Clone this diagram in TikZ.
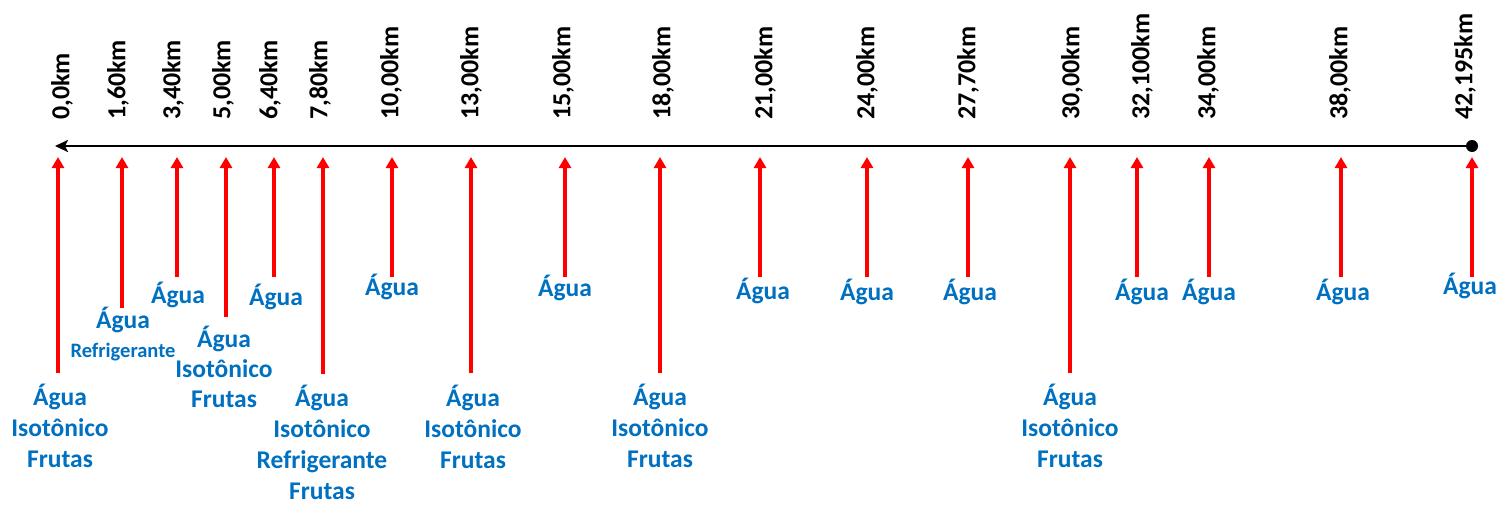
\documentclass[tikz,border=0pt]{standalone}
\usepackage{fontspec}
\setmainfont{Carlito}
\usetikzlibrary{arrows.meta}
\definecolor{labblue}{HTML}{0070C0}
\begin{document}
\begin{tikzpicture}[x=1pt,y=-1pt,
  km/.style={rotate=90,anchor=west,inner sep=0pt,font=\bfseries\fontsize{26}{28}\selectfont},
  lab/.style={text=labblue,font=\bfseries\fontsize{25.5}{31}\selectfont,align=center,anchor=base,inner sep=0pt},
  labsmall/.style={lab,font=\bfseries\fontsize{20.5}{24}\selectfont},
  feed/.style={red,line width=3.5pt,-{Triangle[length=11pt,width=12pt]}},
  axisline/.style={line width=2.5pt,-{Stealth[length=13pt,width=12pt,inset=3pt]}}]
\useasboundingbox (0,0) rectangle (1498,504);
% axis
\node[circle,fill=black,inner sep=0pt,minimum size=12pt] (fin) at (1472,146) {};
\coordinate (start) at (55,146);
\draw[axisline] (fin.center) -- (start);
% km labels and red arrows
\foreach \i/\ax/\lx/\txt/\bot in {
  0/58/62/{0,0km}/373, 1/122/118/{1,60km}/308, 2/177/173/{3,40km}/277,
  3/226/223/{5,00km}/317, 4/274/270/{6,40km}/277, 5/323/320/{7,80km}/374,
  6/392/391/{10,00km}/277, 7/471/471/{13,00km}/373, 8/565/563/{15,00km}/277,
  9/660/663/{18,00km}/373, 10/760/765/{21,00km}/277, 11/867/867/{24,00km}/277,
  12/968/968/{27,70km}/277, 13/1070/1072/{30,00km}/373, 14/1137/1142/{32,100km}/277,
  15/1209/1208/{34,00km}/277, 16/1341/1340/{38,00km}/277, 17/1472/1465/{42,195km}/277}{
  \node[km] (k\i) at (\lx,120) {\txt};
  \coordinate (b\i) at (\ax,\bot);
  \coordinate (t\i) at (\ax,157);
  \draw[feed] (b\i) -- (t\i);
}
% supply labels (anchor=base is the baseline of the last line)
\node[lab] (w0) at (60,467) {Água\\Isotônico\\Frutas};
\node[lab] (w1) at (123,328) {Água};
\node[labsmall] (w1b) at (123,357) {Refrigerante};
\node[lab] (w2) at (178,303) {Água};
\node[lab,font=\bfseries\fontsize{25.5}{30}\selectfont] (w3) at (224,407) {Água\\Isotônico\\Frutas};
\node[lab] (w4) at (276,305) {Água};
\node[lab] (w5) at (322,499) {Água\\Isotônico\\Refrigerante\\Frutas};
\node[lab] (w6) at (392,295) {Água};
\node[lab] (w7) at (473,468) {Água\\Isotônico\\Frutas};
\node[lab] (w8) at (565,296) {Água};
\node[lab] (w9) at (660,467) {Água\\Isotônico\\Frutas};
\node[lab] (w10) at (763,299) {Água};
\node[lab] (w11) at (867,300) {Água};
\node[lab] (w12) at (970,300) {Água};
\node[lab] (w13) at (1070,467) {Água\\Isotônico\\Frutas};
\node[lab] (w14) at (1142,300) {Água};
\node[lab] (w15) at (1209,300) {Água};
\node[lab] (w16) at (1343,300) {Água};
\node[lab] (w17) at (1470,294) {Água};
\end{tikzpicture}
\end{document}
